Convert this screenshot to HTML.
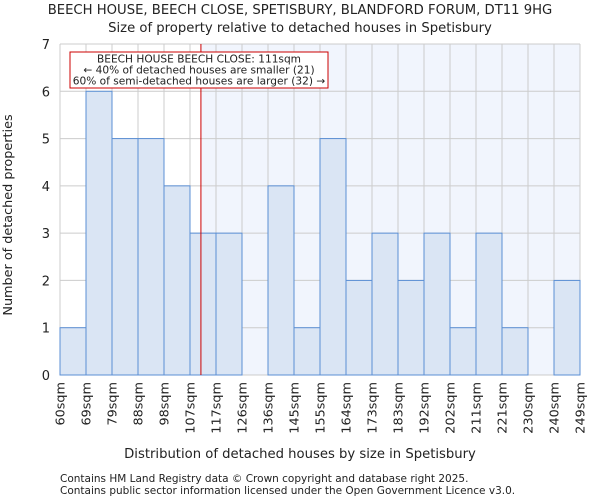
<!DOCTYPE html>
<html><head><meta charset="utf-8"><style>
body{margin:0;background:#fff;font-family:"DejaVu Sans","Liberation Sans",sans-serif;}
svg text{font-family:"DejaVu Sans","Liberation Sans",sans-serif;fill:#222;}
</style></head><body>
<svg id="c" width="600" height="500">
<text x="300" y="14" font-size="13.2" text-anchor="middle">BEECH HOUSE, BEECH CLOSE, SPETISBURY, BLANDFORD FORUM, DT11 9HG</text>
<text x="300" y="32" font-size="13.2" text-anchor="middle">Size of property relative to detached houses in Spetisbury</text>
<g id="plot"></g>
<text x="300" y="458" font-size="13.2" text-anchor="middle">Distribution of detached houses by size in Spetisbury</text>
<text x="12" y="215" font-size="12.8" text-anchor="middle" transform="rotate(-90 12 215)">Number of detached properties</text>
<text x="60" y="482" font-size="10.5">Contains HM Land Registry data © Crown copyright and database right 2025.</text>
<text x="60" y="494" font-size="10.5">Contains public sector information licensed under the Open Government Licence v3.0.</text>
</svg>
<script>
const categories=["60sqm","69sqm","79sqm","88sqm","98sqm","107sqm","117sqm","126sqm","136sqm","145sqm","155sqm","164sqm","173sqm","183sqm","192sqm","202sqm","211sqm","221sqm","230sqm","240sqm","249sqm"];
const counts=[1,6,5,5,4,3,3,0,4,1,5,2,3,2,3,1,3,1,0,2];
const yTicks=[0,1,2,3,4,5,6,7];
const markerIndex=5.42;
const NS="http://www.w3.org/2000/svg";
const L=60,R=580,T=44,B=375,yMax=7;
const bw=(R-L)/counts.length;
const xs=i=>L+i*bw, ys=v=>B-(v/yMax)*(B-T);
const g=document.getElementById('plot');
function mk(t,a){const e=document.createElementNS(NS,t);for(const k in a)e.setAttribute(k,a[k]);g.appendChild(e);return e;}
const mx=xs(markerIndex);
let e=mk('rect',{x:mx,y:T,width:R-mx,height:B-T,fill:'#f1f5fd'});


yTicks.forEach(v=>{
 let l=mk('line',{x1:L,x2:R,y1:ys(v),y2:ys(v),stroke:'#ccc','stroke-width':1});
 
 
 let t=mk('text',{x:L-10,y:ys(v)+5,'font-size':13,'text-anchor':'end'});t.textContent=v;
 
 
});
categories.forEach((c,i)=>{
 let l=mk('line',{x1:xs(i),x2:xs(i),y1:T,y2:B,stroke:'#ccc','stroke-width':1});
 
 
 let x=xs(i)+4.5;
 let t=mk('text',{x:x,y:382,'font-size':12.8,'text-anchor':'end',transform:`rotate(-90 ${x} 382)`});t.textContent=c;
 
 
});
counts.forEach((v,i)=>{
 if(v<=0)return;
 let r=mk('rect',{x:xs(i),y:ys(v),width:bw,height:B-ys(v),fill:'#dae5f4',stroke:'#5b8fd4','stroke-width':1});
 
 
});
let ln=mk('line',{x1:mx,x2:mx,y1:T,y2:B,stroke:'#cc0000','stroke-width':1});


let bx=mk('rect',{x:70,y:52,width:258,height:36,fill:'#fff',stroke:'#cc0000','stroke-width':1});


["BEECH HOUSE BEECH CLOSE: 111sqm","← 40% of detached houses are smaller (21)","60% of semi-detached houses are larger (32) →"].forEach((s,k)=>{
 let t=mk('text',{x:199,y:62.5+k*11,'font-size':10.6,'text-anchor':'middle'});t.textContent=s;
 
 
});
</script>
</body></html>
